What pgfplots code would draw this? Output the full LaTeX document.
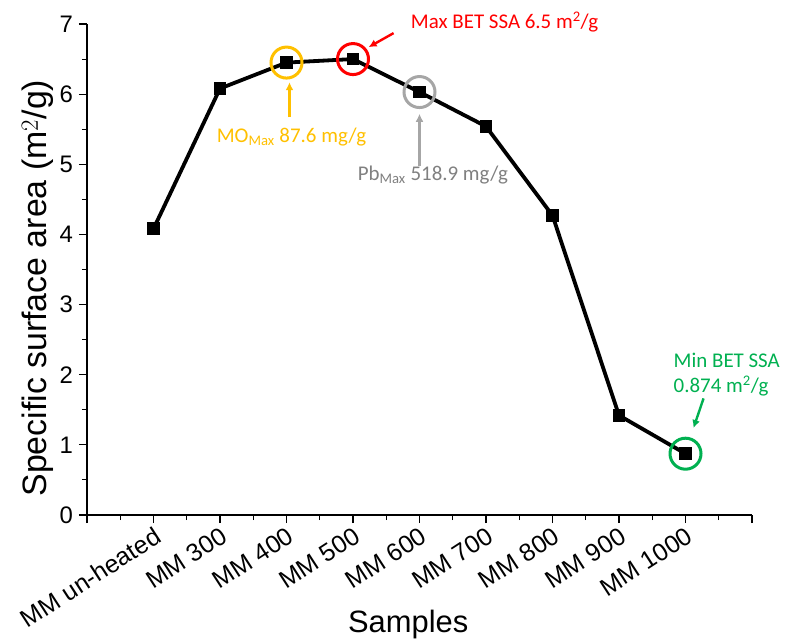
\documentclass[border=0pt]{standalone}
\usepackage{pgfplots}
\pgfplotsset{compat=1.18}
\usetikzlibrary{arrows.meta}
\usepackage{fontspec}
\setmainfont{Liberation Sans}
\newfontfamily\calib{Carlito}
\definecolor{cOrange}{HTML}{FFC000}
\definecolor{cRed}{HTML}{FF0000}
\definecolor{cGrayC}{HTML}{A6A6A6}
\definecolor{cGrayT}{HTML}{808080}
\definecolor{cGreen}{HTML}{00B050}
\begin{document}
\begin{tikzpicture}
\useasboundingbox (-87bp,-127bp) rectangle (699bp,515bp);
\begin{axis}[
  scale only axis,
  width=665bp, height=491bp,
  xmin=-1, xmax=9, ymin=0, ymax=7,
  axis lines*=left,
  axis line style={line width=1.3bp},
  every tick/.style={line width=1.1bp, black},
  tick align=outside,
  major tick length=8bp, minor tick length=5bp,
  xtick={-1,0,1,2,3,4,5,6,7,8,9},
  xticklabels={,MM un-heated,MM 300,MM 400,MM 500,MM 600,MM 700,MM 800,MM 900,MM 1000,},
  minor x tick num=1,
  ytick={0,1,2,3,4,5,6,7},
  minor y tick num=1,
  /pgf/number format/assume math mode=true,
  yticklabel style={font=\fontsize{24}{26}\selectfont, inner sep=0pt, xshift=-6bp},
  xticklabel style={font=\fontsize{25}{27}\selectfont, rotate=33, anchor=north east, inner sep=0pt, xshift=-2bp, yshift=-2bp},
  xlabel={Samples},
  ylabel={Specific surface area (m$^{2}$/g)},
  xlabel style={font=\fontsize{31}{34}\selectfont, at={(axis description cs:0.483,-0.224)}, anchor=center},
  ylabel style={font=\fontsize{34}{36}\selectfont, at={(axis description cs:-0.074,0.462)}, anchor=center},
  clip=false,
]
\addplot[black, line width=3.8bp, mark=square*, mark size=4.5bp, mark options={solid}]
coordinates {(0,4.08) (1,6.08) (2,6.45) (3,6.5) (4,6.03) (5,5.54) (6,4.27) (7,1.42) (8,0.874)};

% annotations
\draw[cOrange, line width=3bp] (axis cs:2,6.45) circle[radius=15.5bp];
\draw[cRed, line width=3bp] (axis cs:3,6.5) circle[radius=15.5bp];
\draw[cGrayC, line width=3bp] (axis cs:4,6.03) circle[radius=15.5bp];
\draw[cGreen, line width=3bp] (axis cs:8,0.874) circle[radius=15.5bp];

\draw[cOrange, line width=2.4bp, -{Latex[length=8bp,width=8bp]}] (axis cs:2.045,5.67) -- (axis cs:2.045,6.17);
\draw[cGrayC, line width=2.4bp, -{Latex[length=8bp,width=8bp]}] (axis cs:4,4.98) -- (axis cs:4,5.72);
\draw[cRed, line width=2.4bp, -{Latex[length=8bp,width=8bp]}] (axis cs:3.61,6.87) -- (axis cs:3.235,6.67);
\draw[cGreen, line width=2.4bp, -{Latex[length=8bp,width=8bp]}] (axis cs:8.271,1.662) -- (axis cs:8.12,1.24);

\node[cOrange, font=\calib\fontsize{21}{24}\selectfont, anchor=center, inner sep=0pt] at (axis cs:2.075,5.39) {MO\textsubscript{Max} 87.6 mg/g};
\node[cGrayT, font=\calib\fontsize{21}{24}\selectfont, anchor=center, inner sep=0pt] at (axis cs:4.2,4.85) {Pb\textsubscript{Max} 518.9 mg/g};
\node[cRed, font=\calib\fontsize{21}{24}\selectfont, anchor=center, inner sep=0pt] at (axis cs:5.28,7.03) {Max BET SSA 6.5 m\textsuperscript{2}/g};
\node[cGreen, font=\calib\fontsize{21}{25}\selectfont, anchor=west, align=left, inner sep=0pt] at (axis cs:7.82,2.0) {Min BET SSA\\0.874 m\textsuperscript{2}/g};
\end{axis}
\end{tikzpicture}
\end{document}
